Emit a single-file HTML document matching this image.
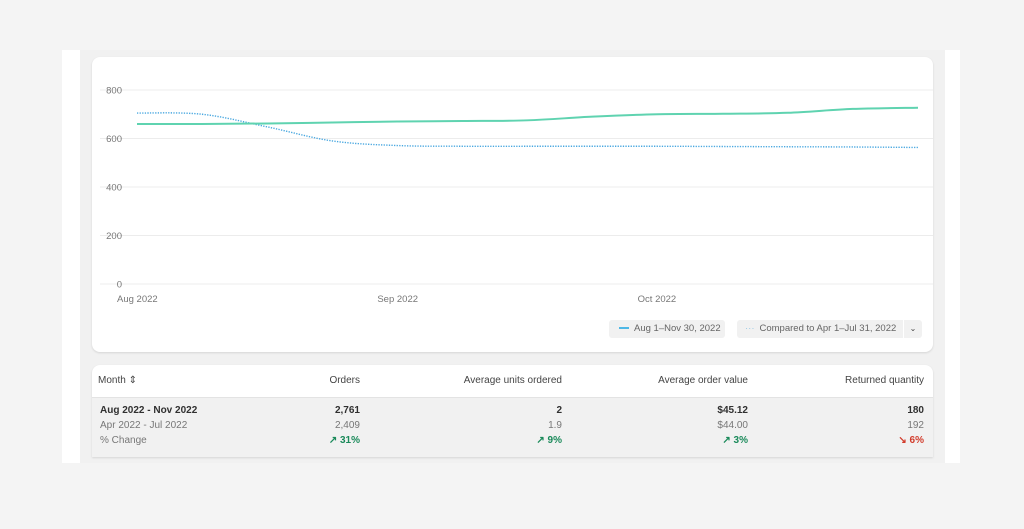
<!DOCTYPE html>
<html><head><meta charset="utf-8"><style>
body{margin:0;width:1024px;height:529px;background:#f4f4f4;font-family:"Liberation Sans",sans-serif;position:relative;overflow:hidden}
.frame{position:absolute;left:62px;top:50px;width:898px;height:413px;background:#fff}
.inner{position:absolute;left:80px;top:50px;width:865px;height:413px;background:#f1f1f1}
.card{position:absolute;background:#fff;border-radius:8px;box-shadow:0 1px 2px rgba(0,0,0,.12)}
.pill{position:absolute;top:320px;height:18px;background:#f1f1f1;border-radius:3px;font-size:9.5px;color:#666;line-height:18px}
.t{position:absolute;font-size:10px;white-space:nowrap}
.r{text-align:right}
</style></head><body>
<div class="frame"></div>
<div class="inner"></div>
<div class="card" style="left:92px;top:57px;width:841px;height:295px"></div>
<svg id="chart" width="1024" height="529" style="position:absolute;left:0;top:0"></svg>
<div class="pill" style="left:609px;width:116px"><span style="display:inline-block;width:10px;height:2px;background:#4fb8e6;vertical-align:middle;margin:0 5px 0 10px"></span>Aug 1–Nov 30, 2022</div>
<div class="pill" style="left:737px;width:185px"><span style="color:#9ccbe6;margin:0 5px 0 8px">···</span>Compared to Apr 1–Jul 31, 2022<span style="position:absolute;right:0;top:0;width:18px;height:18px;border-left:1px solid #fff;text-align:center;font-size:8px;color:#444">⌄</span></div>
<div class="card" style="left:92px;top:365px;width:841px;height:92px;overflow:hidden;border-radius:8px 8px 0 0">
<div style="position:absolute;left:0;top:32px;width:841px;height:60px;background:#f1f1f1;border-top:1px solid #e3e3e3"></div>
</div>
<div class="t" style="left:98px;top:375px;color:#444">Month ⇕</div>
<div class="t r" style="right:664px;top:375px;color:#444">Orders</div>
<div class="t r" style="right:462px;top:375px;color:#444">Average units ordered</div>
<div class="t r" style="right:276px;top:375px;color:#444">Average order value</div>
<div class="t r" style="right:100px;top:375px;color:#444">Returned quantity</div>
<div class="t" style="left:100px;top:405px;font-weight:bold;color:#303030">Aug 2022 - Nov 2022</div>
<div class="t" style="left:100px;top:420px;color:#777">Apr 2022 - Jul 2022</div>
<div class="t" style="left:100px;top:435px;color:#777">% Change</div>
<div class="t r" style="right:664px;top:405px;font-weight:bold;color:#303030">2,761</div>
<div class="t r" style="right:664px;top:420px;color:#777">2,409</div>
<div class="t r" style="right:664px;top:435px;color:#1a8a5a;font-weight:bold">↗ 31%</div>
<div class="t r" style="right:462px;top:405px;font-weight:bold;color:#303030">2</div>
<div class="t r" style="right:462px;top:420px;color:#777">1.9</div>
<div class="t r" style="right:462px;top:435px;color:#1a8a5a;font-weight:bold">↗ 9%</div>
<div class="t r" style="right:276px;top:405px;font-weight:bold;color:#303030">$45.12</div>
<div class="t r" style="right:276px;top:420px;color:#777">$44.00</div>
<div class="t r" style="right:276px;top:435px;color:#1a8a5a;font-weight:bold">↗ 3%</div>
<div class="t r" style="right:100px;top:405px;font-weight:bold;color:#303030">180</div>
<div class="t r" style="right:100px;top:420px;color:#777">192</div>
<div class="t r" style="right:100px;top:435px;color:#d23b2b;font-weight:bold">↘ 6%</div>
<script>
const yTicks=[0,200,400,600,800];
const monthLabels=["Aug 2022","Sep 2022","Oct 2022"];
const monthIdx=[0,4,8];
const currentSeries=[660,660,662,666,670,672,675,690,700,702,706,722,727];
const compareSeries=[705,700,648,590,571,568,568,568,568,567,566,565,563];
const NS="http://www.w3.org/2000/svg";
const svg=document.getElementById('chart');
const x0=137,x1=918,yTop=90,yBot=284,yMax=800;
const xs=i=>x0+(x1-x0)*i/(currentSeries.length-1);
const ys=v=>yBot-(yBot-yTop)*v/yMax;
function mk(t,a){const e=document.createElementNS(NS,t);for(const k in a)e.setAttribute(k,a[k]);svg.appendChild(e);return e;}
yTicks.forEach(v=>{
 const l=mk('line',{x1:100,x2:933,y1:ys(v),y2:ys(v),stroke:'#ececec','stroke-width':1});
 
 
 const t=mk('text',{x:122,y:ys(v)+3.5,'text-anchor':'end','font-size':9.5,fill:'#777','font-family':'Liberation Sans'});
 t.textContent=v;
 
 
});
monthLabels.forEach((m,k)=>{
 const t=mk('text',{x:xs(monthIdx[k])-20,y:302,'font-size':9.5,fill:'#777','font-family':'Liberation Sans'});
 t.textContent=m;
 
 
});
function path(arr){
 const p=arr.map((v,i)=>[xs(i),ys(v)]);
 let d=`M${p[0][0]},${p[0][1]}`;
 for(let i=0;i<p.length-1;i++){
  const a=p[Math.max(i-1,0)],b=p[i],c=p[i+1],e=p[Math.min(i+2,p.length-1)];
  d+=` C${b[0]+(c[0]-a[0])/6},${b[1]+(c[1]-a[1])/6} ${c[0]-(e[0]-b[0])/6},${c[1]-(e[1]-b[1])/6} ${c[0]},${c[1]}`;
 }
 return d;
}
const cmp=mk('path',{d:path(compareSeries),fill:'none',stroke:'#4aa8e0','stroke-width':1.4,'stroke-dasharray':'1.3 1.3'});


const cur=mk('path',{d:path(currentSeries),fill:'none',stroke:'#5fd3b0','stroke-width':2});


</script>
</body></html>
